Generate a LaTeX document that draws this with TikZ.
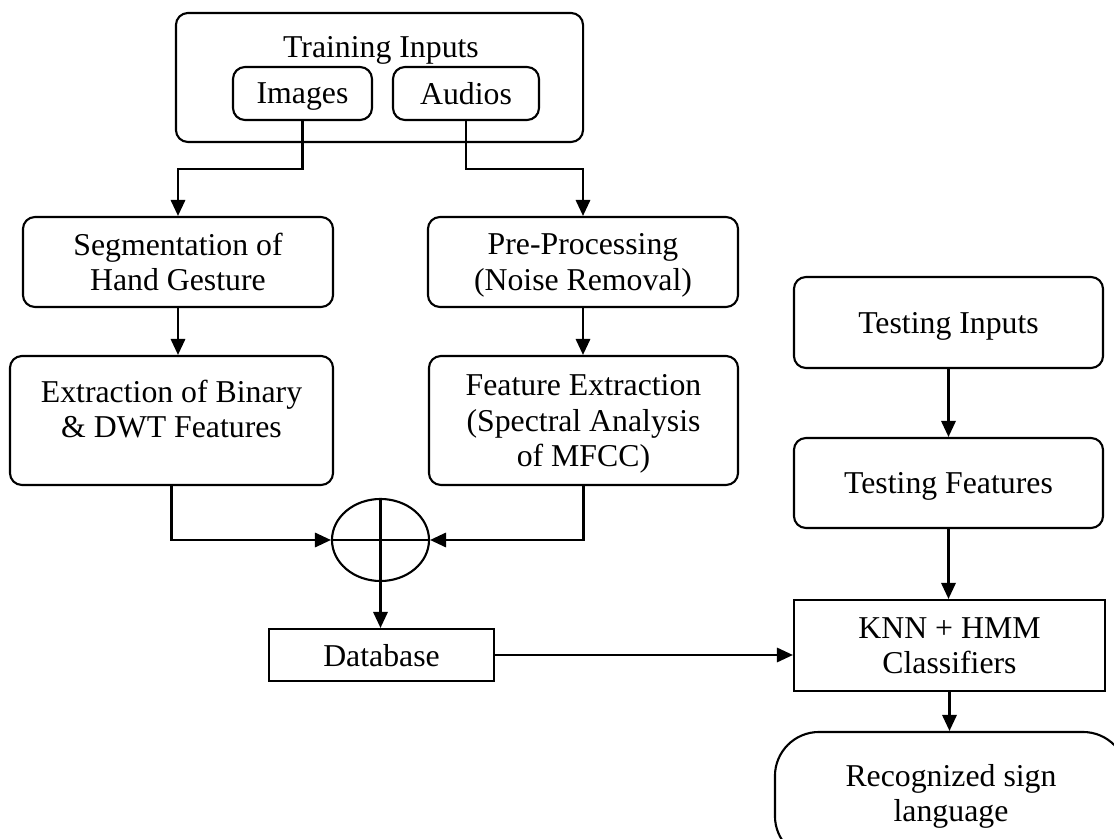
\documentclass[tikz,border=0pt]{standalone}
\usepackage{fontspec}
\setmainfont{Liberation Serif}
\usetikzlibrary{arrows.meta,shapes.geometric,calc}
\tikzset{
    block/.style = {draw, rectangle, line width=1.5pt, text depth=0pt, align=center,
        minimum height=2.25cm,
        minimum width=7.75cm},
    rblock/.style = {block, rounded corners=0.3cm},
    term/.style = {block, rounded corners=1.1cm},
    sum/.style = {draw, ellipse, line width=1.5pt, inner sep=0pt,
        minimum width=2.425cm, minimum height=2.05cm},
    arrow/.style = {draw, line width=1.5pt, -{Triangle[length=0.4cm,width=0.36cm]}}
}

\begin{document}
\begin{tikzpicture}[x=0.025cm,y=-0.025cm,font=\fontsize{22.6}{25}\selectfont]
        \clip (0,0) rectangle (1114,839);
%         \draw[help lines,color=black,dashed] (0,0) grid[step=50] (1114,839);
        \node [rblock, minimum width=10.175cm, minimum height=3.225cm] (train) at (379.5,77.5) {};
        \node [anchor=base] (trainlbl) at (381,58) {Training Inputs};
        \node [rblock, minimum width=3.475cm, minimum height=1.325cm] (img) at (302.5,93.5) {Images};
        \node [rblock, minimum width=3.65cm, minimum height=1.325cm] (aud) at (466,93.5) {Audios};
        \node [rblock] (seg) at (178,262) {Segmentation of\\Hand Gesture};
        \node [rblock] (pre) at (583,262) {Pre-Processing\\(Noise Removal)};
        \node [rblock, minimum width=8.075cm, minimum height=3.225cm, text depth=0.6cm] (ext) at (171.5,420.5) {Extraction of Binary\\\& DWT Features};
        \node [rblock, minimum width=7.725cm, minimum height=3.225cm] (feat) at (583.5,420.5) {Feature Extraction\\(Spectral Analysis\\of MFCC)};
        \node [sum] (add) at (380.5,540) {};
        \node [block, minimum width=5.625cm, minimum height=1.3cm] (db) at (381.5,655) {Database};
        \node [rblock, minimum width=7.725cm, minimum height=2.275cm] (testin) at (948.5,322.5) {Testing Inputs};
        \node [rblock, minimum width=7.725cm] (testft) at (948.5,483) {Testing Features};
        \node [block, minimum width=7.775cm, minimum height=2.275cm] (knn) at (949.5,645.5) {KNN + HMM\\Classifiers};
        \node [term, minimum width=8.8cm, minimum height=3.2cm, text depth=0.15cm] (rec) at (951,796) {Recognized sign\\language};

        \draw [line width=1.5pt] (add.north) -- (add.south) (add.west) -- (add.east);

        \draw [arrow] (img.south) -- ++(0,48) -| (seg.north);
        \draw [arrow] (aud.south) -- ++(0,48) -| (pre.north);
        \draw [arrow] (seg.south) -- (seg.south |- ext.north);
        \draw [arrow] (pre.south) -- (pre.south |- feat.north);
        \draw [arrow] (ext.south) |- (add.west);
        \draw [arrow] (feat.south) |- (add.east);
        \draw [arrow] (add.south) -- (add.south |- db.north);
        \draw [arrow] (db.east) -- (db.east -| knn.west);
        \draw [arrow] (testin.south) -- (testft.north);
        \draw [arrow] (testft.south) -- (testft.south |- knn.north);
        \draw [arrow] (knn.south) -- (knn.south |- rec.north);
\end{tikzpicture}
\end{document}
